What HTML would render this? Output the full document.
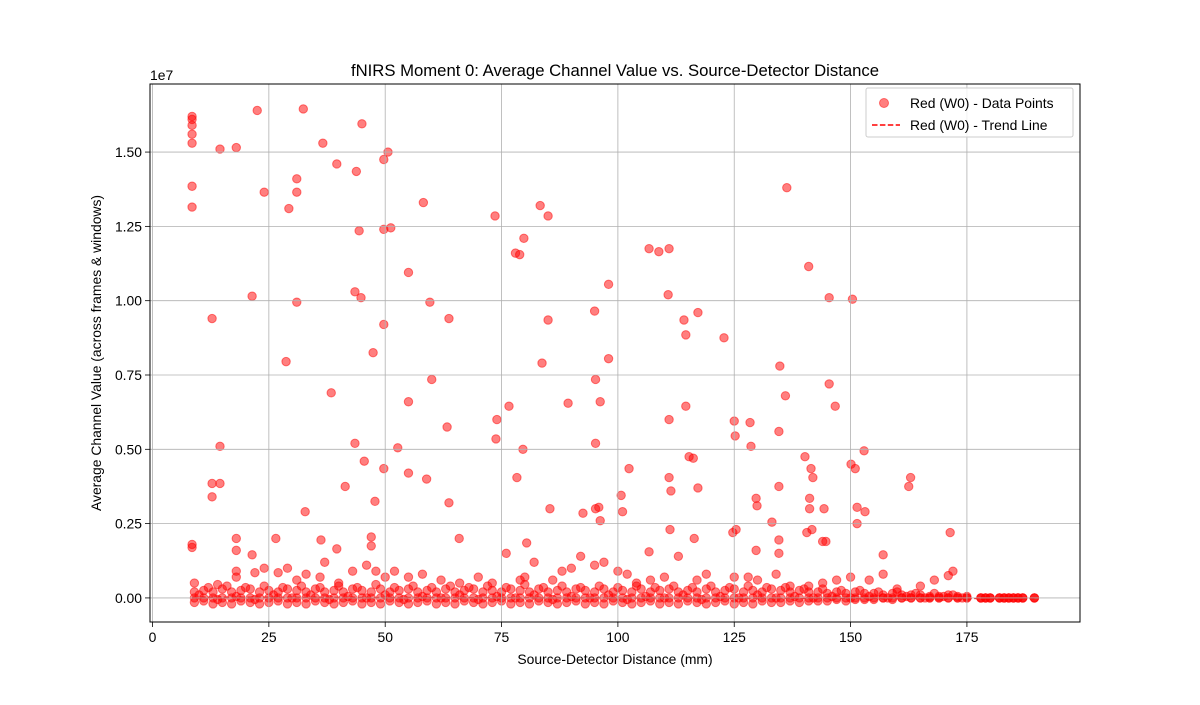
<!DOCTYPE html>
<html><head><meta charset="utf-8"><style>
body{margin:0;background:#fff;font-family:"Liberation Sans",sans-serif}
text{font-family:"Liberation Sans",sans-serif}
</style></head><body>
<svg id="chart" width="1200" height="700" xmlns="http://www.w3.org/2000/svg">
<rect width="1200" height="700" fill="#fff"/>
<g id="points"></g>
<g id="grid"></g>
<g id="axes"></g>
<text x="615" y="76" font-size="16.7" text-anchor="middle">fNIRS Moment 0: Average Channel Value vs. Source-Detector Distance</text>
<text x="615" y="664" font-size="13.9" text-anchor="middle">Source-Detector Distance (mm)</text>
<text transform="translate(101,353) rotate(-90)" font-size="13.9" text-anchor="middle">Average Channel Value (across frames &amp; windows)</text>
<text x="150" y="80" font-size="13.9">1e7</text>
<g>
<rect x="866" y="88" width="207" height="49" fill="#fff" fill-opacity="0.8" stroke="#ccc" rx="2"/>
<circle cx="884" cy="103" r="4.5" fill="rgba(255,0,0,0.5)" stroke="rgba(255,0,0,0.5)"/>
<text x="910" y="108" font-size="13.9">Red (W0) - Data Points</text>
<line x1="872" y1="125" x2="900" y2="125" stroke="red" stroke-width="1.5" stroke-dasharray="5.5,2.4"/>
<text x="910" y="130" font-size="13.9">Red (W0) - Trend Line</text>
</g>
</svg>
<script>
const outX=[8.5,8.5,8.5,8.5,8.5,8.5,8.5,8.5,8.5,22.5,14.5,18,24,32.4,36.6,45,31,31,29.3,39.6,43.8,49.7,50.6,44.4,49.7,51.2,58.2,21.4,12.8,31,43.5,44.8,55,49.7,59.6,63.7,28.7,47.4,38.4,60,55,14.5,12.8,14.5,12.8,43.5,45.5,49.7,41.4,47.8,55,58.9,52.7,63.3,63.7,32.8,65.9,18,26.5,36.2,47,47,39.6,21.4,18,
73.6,83.3,85,79.8,78,78.9,98,106.7,108.8,111,110.8,117.2,114.2,114.6,122.8,95,85,83.7,98,95.2,76.6,74,89.3,96.2,79.6,73.8,95.2,102.4,78.3,85.4,92.5,95.2,95.9,96.2,100.7,101,80.4,106.7,111,111.4,111,114.6,
136.3,141,145.4,150.4,134.8,136,145.4,146.7,125,128.4,125.2,134.6,128.6,115.3,116.2,140.2,152.9,150.1,141.5,141.9,151,162.9,162.5,134.6,117.2,129.7,129.9,141.2,141.2,144.3,151.4,153.1,151.4,133.1,111.2,116.4,125.4,124.7,141.7,140.6,134.6,144,144.7,134.6,129.7,171.4,157,172,171];
const outY=[1.62,1.61,1.59,1.56,1.53,1.385,1.315,0.18,0.17,1.64,1.51,1.515,1.365,1.645,1.53,1.595,1.41,1.365,1.31,1.46,1.435,1.475,1.5,1.235,1.24,1.245,1.33,1.015,0.94,0.995,1.03,1.01,1.095,0.92,0.995,0.94,0.795,0.825,0.69,0.735,0.66,0.51,0.385,0.385,0.34,0.52,0.46,0.435,0.375,0.325,0.42,0.4,0.505,0.575,0.32,0.29,0.2,0.2,0.2,0.195,0.205,0.175,0.165,0.145,0.16,
1.285,1.32,1.285,1.21,1.16,1.155,1.055,1.175,1.165,1.175,1.02,0.96,0.935,0.885,0.875,0.965,0.935,0.79,0.805,0.735,0.645,0.6,0.655,0.66,0.5,0.535,0.52,0.435,0.405,0.3,0.285,0.3,0.305,0.26,0.345,0.29,0.185,0.155,0.405,0.36,0.6,0.645,
1.38,1.115,1.01,1.005,0.78,0.68,0.72,0.645,0.595,0.59,0.545,0.56,0.51,0.475,0.47,0.475,0.495,0.45,0.435,0.405,0.435,0.405,0.375,0.375,0.37,0.335,0.31,0.335,0.3,0.3,0.305,0.29,0.25,0.255,0.23,0.2,0.23,0.22,0.23,0.22,0.195,0.19,0.19,0.15,0.16,0.22,0.145,0.09,0.075];
const smallX=[9,14,18,18,22,24,27,29,31,33,36,37,40,43,46,48,50,52,55,58,62,66,70,73,76,79,80,82,86,88,90,92,95,97,100,102,104,107,110,113,117,119,125,128,130,134,137,141,144,147,150,154,157,160,165,168];
const smallY=[0.05,0.045,0.09,0.07,0.085,0.1,0.085,0.1,0.06,0.08,0.07,0.12,0.05,0.09,0.11,0.09,0.07,0.09,0.07,0.08,0.06,0.05,0.07,0.05,0.15,0.06,0.07,0.12,0.06,0.09,0.1,0.14,0.11,0.12,0.09,0.08,0.05,0.06,0.07,0.14,0.06,0.08,0.07,0.07,0.06,0.08,0.04,0.04,0.05,0.06,0.07,0.06,0.08,0.03,0.04,0.06];
const bandX=[9,11,13,15,17,19,21,23,25,27,29,31,33,35,37,39,41,43,45,47,49,51,53,55,57,59,61,63,65,67,69,71,73,75,77,79,81,83,85,87,89,91,93,95,97,99,101,103,105,107,109,111,113,115,117,119,121,123,125,127,129,131,133,135,137,139,141,143,145,147,149,151,153,155,157,159,161,163,165,167,169,171,173,175,178,179,180,182,183,184,185,186,187,189.5];
const bandY1=[0.02,0.025,0.02,0.03,0.02,0.025,0.03,0.02,0.025,0.02,0.03,0.025,0.02,0.03,0.02,0.025,0.02,0.03,0.025,0.02,0.03,0.02,0.025,0.03,0.02,0.025,0.02,0.03,0.02,0.025,0.03,0.02,0.025,0.02,0.03,0.025,0.02,0.03,0.02,0.025,0.02,0.03,0.025,0.02,0.03,0.02,0.025,0.02,0.03,0.02,0.025,0.03,0.02,0.025,0.02,0.03,0.02,0.025,0.03,0.02,0.025,0.02,0.03,0.025,0.02,0.025,0.02,0.02,0.015,0.02,0.015,0.02,0.015,0.015,0.01,0.015,0.01,0.01,0.01,0.005,0.005,0.01,0.005,0.005,0,0,0,0,0,0,0,0,0,0];
const bandY2=[-0.015,-0.01,-0.02,-0.015,-0.02,-0.01,-0.015,-0.02,-0.015,-0.01,-0.02,-0.015,-0.02,-0.01,-0.015,-0.02,-0.015,-0.01,-0.02,-0.015,-0.02,-0.01,-0.015,-0.02,-0.015,-0.01,-0.02,-0.015,-0.02,-0.01,-0.015,-0.02,-0.015,-0.01,-0.02,-0.015,-0.02,-0.01,-0.015,-0.02,-0.015,-0.01,-0.02,-0.015,-0.02,-0.01,-0.015,-0.02,-0.015,-0.01,-0.02,-0.015,-0.02,-0.01,-0.015,-0.02,-0.015,-0.01,-0.02,-0.015,-0.02,-0.01,-0.015,-0.015,-0.01,-0.015,-0.01,-0.01,-0.01,-0.005,-0.01,-0.005,-0.005,-0.005,0,-0.005,0,0,0,0,0,0,0,0,0,0,0,0,0,0,0,0,0,0];
const band2X=[10,12,14,16,18,20,22,24,26,28,30,32,34,36,38,40,42,44,46,48,50,52,54,56,58,60,62,64,66,68,70,72,74,76,78,80,82,84,86,88,90,92,94,96,98,100,102,104,106,108,110,112,114,116,118,120,122,124,126,128,130,132,134,136,138,140,142,144,146,148,150,152,154,156,158,160,162,164,166,168,170,172,174];
const band2Y=[0.01,0.035,-0.005,0.04,0.005,0.035,-0.005,0.04,0.01,0.035,0.0,0.04,0.01,0.035,-0.005,0.04,0.005,0.035,0.0,0.045,0.01,0.035,-0.005,0.04,0.005,0.035,0.0,0.04,0.01,0.035,-0.005,0.04,0.005,0.035,0.0,0.045,0.01,0.035,-0.005,0.04,0.005,0.035,0.0,0.04,0.01,0.035,-0.005,0.04,0.005,0.035,0.0,0.04,0.01,0.035,-0.005,0.04,0.005,0.035,0.0,0.04,0.01,0.035,0.0,0.035,0.005,0.03,0.0,0.03,0.005,0.025,0.0,0.025,0.005,0.02,0.0,0.02,0.005,0.015,0.0,0.015,0.005,0.01,0.0];
const trendX=[8.5,189.5];
const trendY=[0.002,-0.002];
const xTicks=[0,25,50,75,100,125,150,175];
const yTicks=[0,0.25,0.5,0.75,1.0,1.25,1.5];
const yTickLabels=["0.00","0.25","0.50","0.75","1.00","1.25","1.50"];

const L=150,R=1080,T=84,B=622;
const X0=-0.54,X1=199.3,Y0=-0.081,Y1=1.729;
const sx=v=>L+(v-X0)/(X1-X0)*(R-L);
const sy=v=>B-(v-Y0)/(Y1-Y0)*(B-T);
const NS="http://www.w3.org/2000/svg";
function mk(tag,attrs,parent){const e=document.createElementNS(NS,tag);for(const k in attrs)e.setAttribute(k,attrs[k]);parent.appendChild(e);return e;}
const pts=document.getElementById('points');
function plot(xs,ys,name){for(let i=0;i<xs.length;i++){const c=mk('circle',{cx:sx(xs[i]),cy:sy(ys[i]),r:4.2,fill:'rgba(255,0,0,0.5)',stroke:'rgba(255,0,0,0.5)','stroke-width':1},pts);

}}
plot(bandX,bandY1,'data-point');plot(bandX,bandY2,'data-point');plot(bandX,bandX.map(()=>0),'data-point');
plot(band2X,band2Y,'data-point');
plot(smallX,smallY,'data-point');plot(outX,outY,'data-point');
const tl=mk('line',{x1:sx(trendX[0]),y1:sy(trendY[0]),x2:sx(trendX[1]),y2:sy(trendY[1]),stroke:'red','stroke-width':1.5,'stroke-dasharray':'5.5,2.4'},pts);


const g=document.getElementById('grid'),ax=document.getElementById('axes');
xTicks.forEach(t=>{const x=sx(t);
const gl=mk('line',{x1:x,y1:T,x2:x,y2:B,stroke:'#b0b0b0','stroke-width':0.8},g);


mk('line',{x1:x,y1:B,x2:x,y2:B+5,stroke:'#000','stroke-width':0.8},ax);
const tx=mk('text',{x:x,y:B+20,'font-size':13.9,'text-anchor':'middle'},ax);tx.textContent=t;

});
yTicks.forEach((t,i)=>{const y=sy(t);
const gl=mk('line',{x1:L,y1:y,x2:R,y2:y,stroke:'#b0b0b0','stroke-width':0.8},g);


mk('line',{x1:L-5,y1:y,x2:L,y2:y,stroke:'#000','stroke-width':0.8},ax);
const tx=mk('text',{x:L-8,y:y+5,'font-size':13.9,'text-anchor':'end'},ax);tx.textContent=yTickLabels[i];

});
mk('rect',{x:L,y:T,width:R-L,height:B-T,fill:'none',stroke:'#000','stroke-width':1},ax);
</script>
</body></html>
